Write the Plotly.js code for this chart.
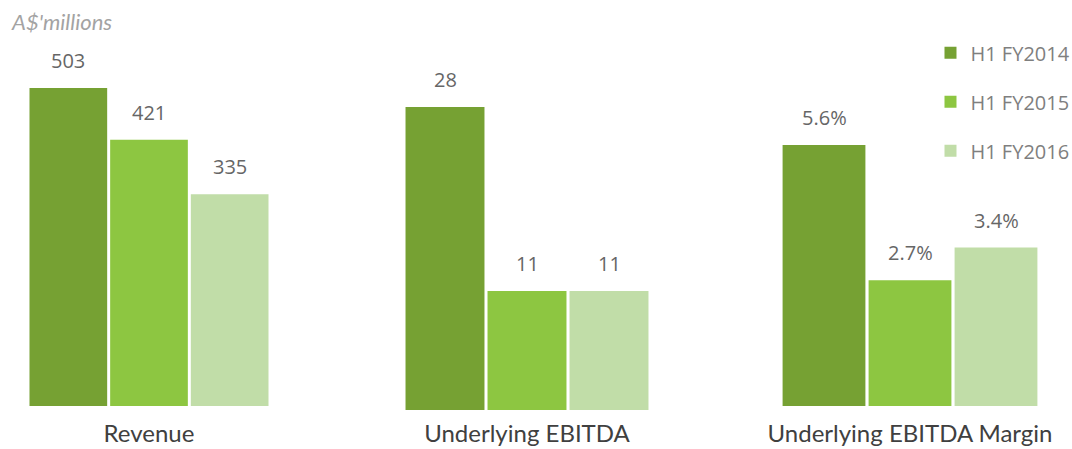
<!DOCTYPE html>
<html><head><meta charset="utf-8">
<script src="https://cdn.plot.ly/plotly-3.0.1.min.js"></script>
<style>html,body{margin:0;padding:0;background:#fff}#chart{width:1072px;height:449px}</style>
</head><body><div id="chart"></div>
<script>
const metrics = ["Revenue", "Underlying EBITDA", "Underlying EBITDA Margin"];
const seriesNames = ["H1 FY2014", "H1 FY2015", "H1 FY2016"];
const revenue = [503, 421, 335];
const ebitda = [28, 11, 11];
const margin = [5.6, 2.7, 3.4];
const labelRevenue = ["503", "421", "335"];
const labelEbitda = ["28", "11", "11"];
const labelMargin = ["5.6%", "2.7%", "3.4%"];
const colors = ["#76A133", "#8DC641", "#C1DDA8"];

const values = [revenue, ebitda, margin];
const labels = [labelRevenue, labelEbitda, labelMargin];
const yMax = [642, 37.9, 8.71];
const xDomains = [[28/1072, 270/1072], [404/1072, 650/1072], [781/1072, 1039/1072]];
const yBottoms = [43/449, 39/449, 43/449];
const standoffs = [11, 7, 11];

const traces = [];
const annotations = [];
const layout = {
  width: 1072, height: 449,
  margin: {l: 0, r: 0, t: 0, b: 0, autoexpand: false},
  paper_bgcolor: "#fff", plot_bgcolor: "rgba(0,0,0,0)",
  barmode: "group", bargap: 0, bargroupgap: 0.037,
  showlegend: true,
  legend: {x: 0.868, y: 0.926, xanchor: "left", yanchor: "top",
    traceorder: "grouped", tracegroupgap: 20,
    font: {family: "Open Sans, sans-serif", size: 20, color: "#7f7f7f"}},
  annotations: annotations
};

metrics.forEach((m, s) => {
  const xa = s === 0 ? "x" : "x" + (s + 1);
  const ya = s === 0 ? "y" : "y" + (s + 1);
  seriesNames.forEach((name, i) => {
    traces.push({
      type: "bar", name: name, x: [m], y: [values[s][i]],
      xaxis: xa, yaxis: ya,
      marker: {color: colors[i]},
      legendgroup: name, showlegend: s === 0,
      hoverinfo: "skip"
    });
    annotations.push({
      xref: xa, yref: ya, x: (i - 1) / 3, y: values[s][i],
      text: labels[s][i], showarrow: false, yanchor: "bottom", yshift: 12,
      font: {family: "Open Sans, sans-serif", size: 20, color: "#666666"}
    });
  });
  const axName = s === 0 ? "" : String(s + 1);
  layout["xaxis" + axName] = {
    domain: xDomains[s], anchor: ya, type: "category", range: [-0.5, 0.5],
    showgrid: false, zeroline: false, showline: false, ticks: "",
    automargin: false,
    ticklabelstandoff: standoffs[s],
    tickfont: {family: "Lato, sans-serif", size: 24, color: "#404040"}
  };
  layout["yaxis" + axName] = {
    domain: [yBottoms[s], 1], anchor: xa, range: [0, yMax[s]],
    showgrid: false, zeroline: false, showline: false, showticklabels: false, ticks: ""
  };
});

annotations.push({
  xref: "paper", yref: "paper", x: 9/1072, y: 1 - 21/449, xanchor: "left", yanchor: "middle",
  text: "<i>A$'millions</i>", showarrow: false,
  font: {family: "Lato, sans-serif", size: 22, color: "#a3a3a3"}
});

Plotly.newPlot("chart", traces, layout, {displayModeBar: false, staticPlot: true});
</script></body></html>
